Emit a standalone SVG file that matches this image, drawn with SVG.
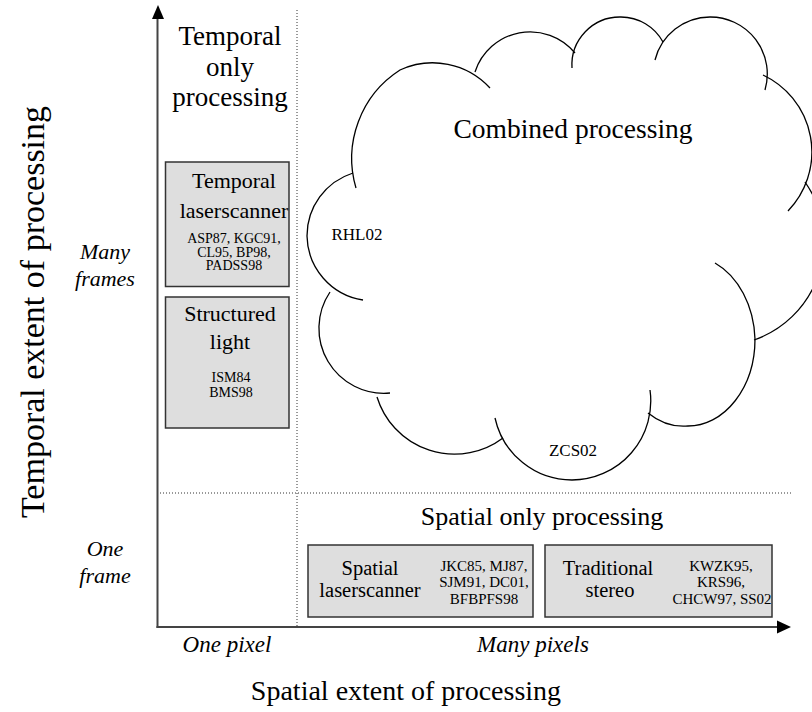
<svg xmlns="http://www.w3.org/2000/svg" width="812" height="712" viewBox="0 0 812 712">
<style>
text{font-family:"Liberation Serif","Times New Roman",serif;fill:#000;text-anchor:middle}
.big{font-size:27.5px}
.mid{font-size:26px}
.top{font-size:27px}
.ttl{font-size:22px}
.ttl2{font-size:20.5px}
.ref{font-size:14px}
.ref2{font-size:15px}
.it{font-style:italic;font-size:22px}
.box{fill:#dedede;stroke:#333;stroke-width:1.5}
.dot{stroke:#333;stroke-width:1;stroke-dasharray:1 2;fill:none}
.cl{fill:none;stroke:#000;stroke-width:1.3}
.ax{stroke:#444;stroke-width:2;fill:none}
</style>
<rect width="812" height="712" fill="#fff"/>
<g id="grid">
<line class="dot" x1="297" y1="10" x2="297" y2="627"/>
<line class="dot" x1="157" y1="493" x2="792" y2="493"/>
</g>
<g id="axes">
<line class="ax" x1="157.5" y1="628" x2="157.5" y2="18"/>
<polygon points="158,5 152,19 164,19" fill="#000"/>
<line class="ax" x1="156.5" y1="627" x2="778" y2="627"/>
<polygon points="791,627 777,620.5 777,633.5" fill="#000"/>
</g>
<g id="cloud">
<path class="cl" d="M356 188 A105 105 0 0 1 400 70 A78 78 0 0 1 490 88"/>
<path class="cl" d="M475 72 A58 58 0 0 1 575 53"/>
<path class="cl" d="M572 68 A48 48 0 0 1 621 17 A48 48 0 0 1 663 42"/>
<path class="cl" d="M655 60 A57 57 0 0 1 710 17 A57 57 0 0 1 765 90"/>
<path class="cl" d="M763 75 A85 85 0 0 1 788 211"/>
<path class="cl" d="M805 182 A104 104 0 0 1 754 340"/>
<path class="cl" d="M715 263 A67 87 0 0 1 755 339 A67 87 0 0 1 688 426 A67 87 0 0 1 648 413"/>
<path class="cl" d="M650 390 A79 79 0 0 1 572 480 A79 79 0 0 1 495 418"/>
<path class="cl" d="M503 438 A81 81 0 0 1 377 397"/>
<path class="cl" d="M390 393 A65 65 0 0 1 330 292"/>
<path class="cl" d="M363 300 A66 66 0 0 1 307 236 A66 66 0 0 1 353 173"/>
<text class="big" x="573" y="138">Combined processing</text>
<text x="357" y="240" style="font-size:17px">RHL02</text>
<text x="573" y="456" style="font-size:17px">ZCS02</text>
</g>
<g id="temporal-only">
<text class="top" x="230" y="45">Temporal</text>
<text class="top" x="230" y="76">only</text>
<text class="top" x="230" y="106">processing</text>
</g>
<g id="temporal-laserscanner">
<rect class="box" x="165.5" y="162" width="123.5" height="124.5"/>
<text class="ttl" x="234" y="188">Temporal</text>
<text class="ttl" x="234" y="218">laserscanner</text>
<text class="ref" x="234" y="243">ASP87, KGC91,</text>
<text class="ref" x="234" y="256.5">CL95, BP98,</text>
<text class="ref" x="234" y="270">PADSS98</text>
</g>
<g id="structured-light">
<rect class="box" x="165.5" y="297" width="123.5" height="131"/>
<text class="ttl" x="230" y="321">Structured</text>
<text class="ttl" x="230" y="349">light</text>
<text class="ref" x="231" y="382">ISM84</text>
<text class="ref" x="231" y="397">BMS98</text>
</g>
<g id="spatial-only">
<text class="mid" x="542" y="525">Spatial only processing</text>
</g>
<g id="spatial-laserscanner">
<rect class="box" x="308" y="545" width="225" height="72"/>
<text class="ttl2" x="370" y="575">Spatial</text>
<text class="ttl2" x="370" y="597">laserscanner</text>
<text class="ref2" x="484" y="571">JKC85, MJ87,</text>
<text class="ref2" x="484" y="587">SJM91, DC01,</text>
<text class="ref2" x="484" y="604">BFBPFS98</text>
</g>
<g id="traditional-stereo">
<rect class="box" x="545" y="545" width="227" height="72"/>
<text class="ttl2" x="608" y="575">Traditional</text>
<text class="ttl2" x="610" y="597">stereo</text>
<text class="ref2" x="721" y="571">KWZK95,</text>
<text class="ref2" x="721" y="587">KRS96,</text>
<text class="ref2" x="722" y="604">CHCW97, SS02</text>
</g>
<g id="axis-labels">
<text class="it" x="105" y="259">Many</text>
<text class="it" x="105" y="286">frames</text>
<text class="it" x="105" y="556">One</text>
<text class="it" x="105" y="583">frame</text>
<text class="it" x="227" y="652" style="font-size:23px">One pixel</text>
<text class="it" x="533" y="652" style="font-size:23px">Many pixels</text>
<text style="font-size:28px" x="406" y="700">Spatial extent of processing</text>
<text style="font-size:34px" transform="translate(44 312) rotate(-90)">Temporal extent of processing</text>
</g>
</svg>
